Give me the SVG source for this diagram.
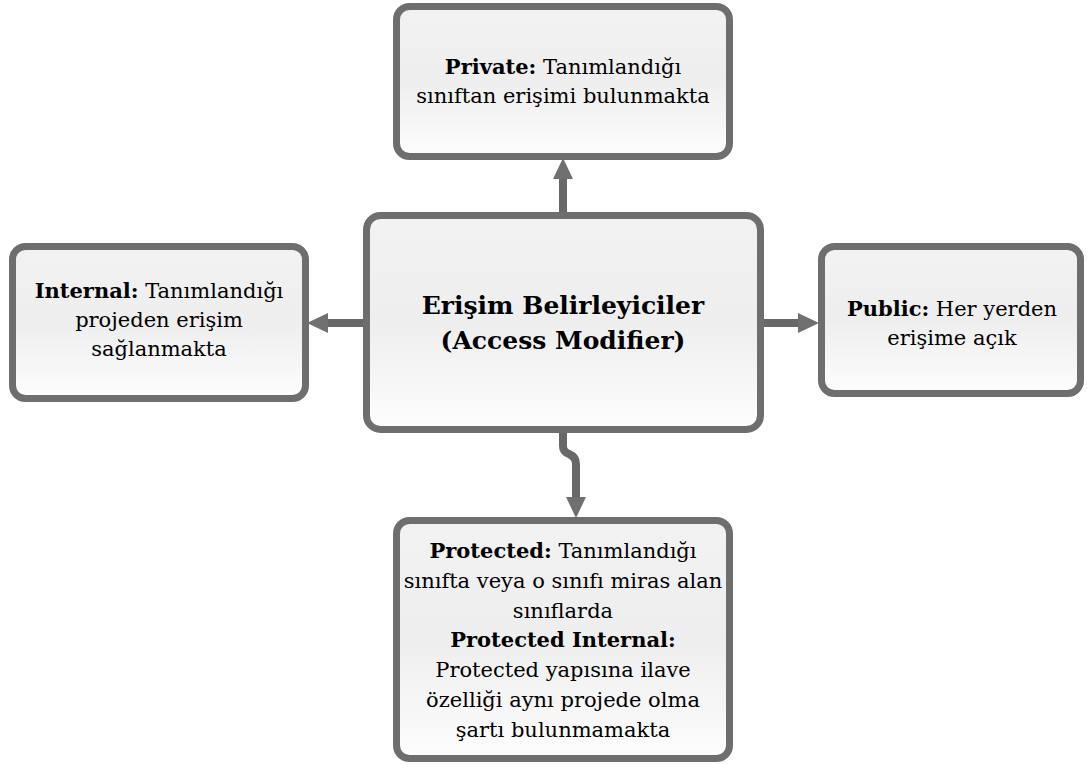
<svg xmlns="http://www.w3.org/2000/svg" width="1087" height="765" viewBox="0 0 1087 765">
<defs>
<linearGradient id="fillg" x1="0" y1="0" x2="0" y2="1">
<stop offset="0" stop-color="#f2f2f2"/>
<stop offset="0.5" stop-color="#eeeeee"/>
<stop offset="1" stop-color="#fdfdfd"/>
</linearGradient>
<marker id="arr" markerUnits="userSpaceOnUse" markerWidth="22" markerHeight="22" viewBox="0 -11 22 22" refX="6" refY="0" orient="auto">
<path d="M0,-10 L21,0 L0,10 z" fill="#707070"/>
</marker>
</defs>
<style>
.box{fill:url(#fillg);stroke:#6e6e6e;stroke-width:7}
.t{font-family:"DejaVu Serif","Liberation Serif",serif;font-size:21px;fill:#000;text-anchor:middle}
.b{font-weight:bold}
.big{font-size:25px;font-weight:bold}
.conn{fill:none;stroke:#686868;stroke-width:8;stroke-linecap:round;stroke-linejoin:round;marker-end:url(#arr)}
</style>
<rect width="1087" height="765" fill="#ffffff"/>
<g id="connectors">
<path class="conn" d="M563,219 L563,173"/>
<path class="conn" d="M369,323 L322,323"/>
<path class="conn" d="M757,323 L804,323"/>
<path class="conn" d="M563,426 V446 Q563,452 569,454 Q576,457 576,464 V503"/>
</g>
<g id="node-private">
<rect class="box" x="396.5" y="6.5" width="333" height="150" rx="13"/>
<text class="t" x="563" y="74"><tspan class="b">Private:</tspan> Tanımlandığı</text>
<text class="t" x="563" y="103">sınıftan erişimi bulunmakta</text>
</g>
<g id="node-center">
<rect class="box" x="366.5" y="215.5" width="394" height="214" rx="14"/>
<text class="t big" x="563" y="314">Erişim Belirleyiciler</text>
<text class="t big" x="563" y="349">(Access Modifier)</text>
</g>
<g id="node-internal">
<rect class="box" x="12.5" y="246.5" width="293" height="152" rx="13"/>
<text class="t" x="159" y="298"><tspan class="b">Internal:</tspan> Tanımlandığı</text>
<text class="t" x="159" y="327">projeden erişim</text>
<text class="t" x="159" y="356">sağlanmakta</text>
</g>
<g id="node-public">
<rect class="box" x="821.5" y="246.5" width="259" height="147" rx="13"/>
<text class="t" x="952" y="316"><tspan class="b">Public:</tspan> Her yerden</text>
<text class="t" x="952" y="345">erişime açık</text>
</g>
<g id="node-protected">
<rect class="box" x="396.5" y="520.5" width="333" height="238" rx="13"/>
<text class="t" x="563" y="558"><tspan class="b">Protected:</tspan> Tanımlandığı</text>
<text class="t" x="563" y="588">sınıfta veya o sınıfı miras alan</text>
<text class="t" x="563" y="618">sınıflarda</text>
<text class="t b" x="563" y="647">Protected Internal:</text>
<text class="t" x="563" y="677">Protected yapısına ilave</text>
<text class="t" x="563" y="707">özelliği aynı projede olma</text>
<text class="t" x="563" y="737">şartı bulunmamakta</text>
</g>
</svg>
